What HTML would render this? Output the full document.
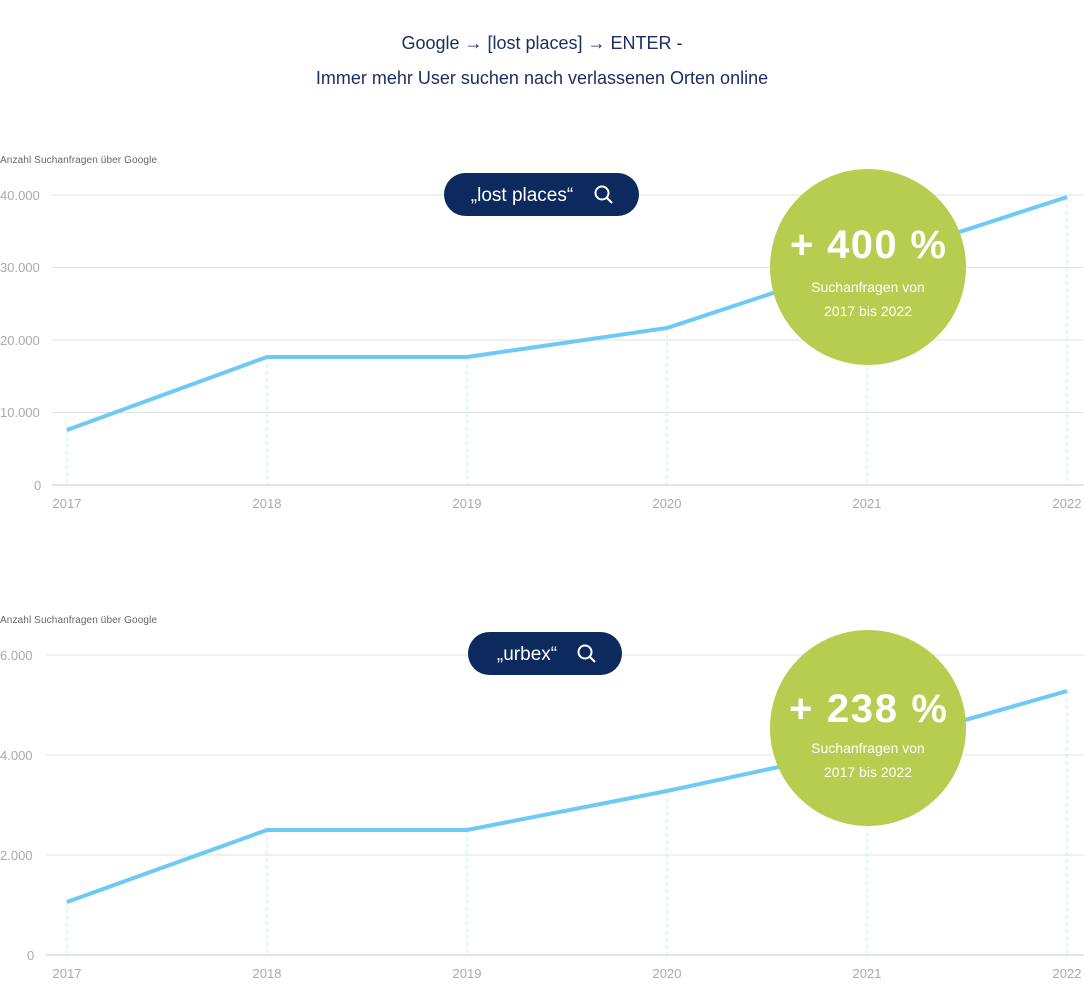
<!DOCTYPE html>
<html><head><meta charset="utf-8"><style>
html,body{margin:0;padding:0;background:#fff;}
svg{display:block;font-family:"Liberation Sans",sans-serif;}
</style></head><body>
<svg width="1084" height="1006" viewBox="0 0 1084 1006" xmlns="http://www.w3.org/2000/svg">
<text x="542" y="49" text-anchor="middle" font-size="18" fill="#1b2f63">Google → [lost places] → ENTER -</text>
<text x="542" y="84" text-anchor="middle" font-size="18" fill="#1b2f63">Immer mehr User suchen nach verlassenen Orten online</text>

<!-- Chart 1 -->
<text x="0" y="163" font-size="10" fill="#666" textLength="157">Anzahl Suchanfragen über Google</text>
<g stroke="#e2e2e2" stroke-width="1">
<line x1="52" y1="195" x2="1084" y2="195"/><line x1="52" y1="267.5" x2="1084" y2="267.5"/>
<line x1="52" y1="340" x2="1084" y2="340"/><line x1="52" y1="412.5" x2="1084" y2="412.5"/>
</g>
<line x1="52" y1="485" x2="1084" y2="485" stroke="#c8c8c8"/>
<g font-size="13" fill="#aaa">
<text x="0" y="200">40.000</text><text x="0" y="272">30.000</text><text x="0" y="345">20.000</text><text x="0" y="417">10.000</text><text x="34" y="490">0</text>
</g>
<g stroke="#c9e9f8" stroke-dasharray="4,3">
<line x1="67" y1="430" x2="67" y2="485"/><line x1="267" y1="357" x2="267" y2="485"/><line x1="467" y1="357" x2="467" y2="485"/><line x1="667" y1="328" x2="667" y2="485"/><line x1="867" y1="262" x2="867" y2="485"/><line x1="1067" y1="197" x2="1067" y2="485"/>
</g>
<g font-size="13" fill="#aaa" text-anchor="middle">
<text x="67" y="508">2017</text><text x="267" y="508">2018</text><text x="467" y="508">2019</text><text x="667" y="508">2020</text><text x="867" y="508">2021</text><text x="1067" y="508">2022</text>
</g>
<polyline points="67,430 267,357 467,357 667,328 867,262 1067,197" fill="none" stroke="#6ccaf5" stroke-width="4" stroke-linejoin="round"/>
<rect x="444" y="173" width="195" height="43" rx="21.5" fill="#0c2a5e"/>
<text x="522" y="201" text-anchor="middle" font-size="19" fill="#fff">„lost places“</text>
<circle cx="602" cy="193" r="6.5" fill="none" stroke="#fff" stroke-width="2"/><line x1="607" y1="198" x2="612" y2="203" stroke="#fff" stroke-width="2"/>
<circle cx="868" cy="267" r="98" fill="#b7cd50"/>
<text x="868" y="258" text-anchor="middle" font-size="40" font-weight="bold" fill="#fff" textLength="156">+ 400 %</text>
<text x="868" y="292" text-anchor="middle" font-size="14" fill="#fff">Suchanfragen von</text>
<text x="868" y="316" text-anchor="middle" font-size="14" fill="#fff">2017 bis 2022</text>

<!-- Chart 2 -->
<text x="0" y="623" font-size="10" fill="#666" textLength="157">Anzahl Suchanfragen über Google</text>
<g stroke="#e2e2e2" stroke-width="1">
<line x1="46" y1="655" x2="1084" y2="655"/><line x1="46" y1="755" x2="1084" y2="755"/><line x1="46" y1="855" x2="1084" y2="855"/>
</g>
<line x1="46" y1="955" x2="1084" y2="955" stroke="#c8c8c8"/>
<g font-size="13" fill="#aaa">
<text x="0" y="660">6.000</text><text x="0" y="760">4.000</text><text x="0" y="860">2.000</text><text x="27" y="960">0</text>
</g>
<g stroke="#c9e9f8" stroke-dasharray="4,3">
<line x1="67" y1="902" x2="67" y2="955"/><line x1="267" y1="830" x2="267" y2="955"/><line x1="467" y1="830" x2="467" y2="955"/><line x1="667" y1="791" x2="667" y2="955"/><line x1="867" y1="748" x2="867" y2="955"/><line x1="1067" y1="691" x2="1067" y2="955"/>
</g>
<g font-size="13" fill="#aaa" text-anchor="middle">
<text x="67" y="978">2017</text><text x="267" y="978">2018</text><text x="467" y="978">2019</text><text x="667" y="978">2020</text><text x="867" y="978">2021</text><text x="1067" y="978">2022</text>
</g>
<polyline points="67,902 267,830 467,830 667,791 867,748 1067,691" fill="none" stroke="#6ccaf5" stroke-width="4" stroke-linejoin="round"/>
<rect x="468" y="632" width="154" height="43" rx="21.5" fill="#0c2a5e"/>
<text x="527" y="660" text-anchor="middle" font-size="19" fill="#fff">„urbex“</text>
<circle cx="585" cy="652" r="6.5" fill="none" stroke="#fff" stroke-width="2"/><line x1="590" y1="657" x2="595" y2="662" stroke="#fff" stroke-width="2"/>
<circle cx="868" cy="728" r="98" fill="#b7cd50"/>
<text x="868" y="722" text-anchor="middle" font-size="40" font-weight="bold" fill="#fff" textLength="158">+ 238 %</text>
<text x="868" y="753" text-anchor="middle" font-size="14" fill="#fff">Suchanfragen von</text>
<text x="868" y="777" text-anchor="middle" font-size="14" fill="#fff">2017 bis 2022</text>
</svg>
</body></html>
